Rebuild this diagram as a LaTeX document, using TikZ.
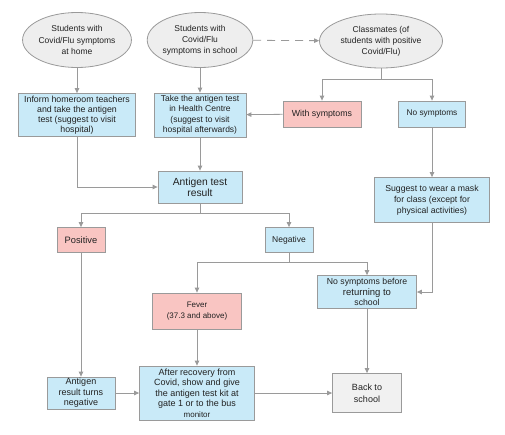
\documentclass[tikz,border=0pt]{standalone}
\usepackage{fontspec}
\setmainfont{Liberation Sans}
\usetikzlibrary{arrows.meta,shapes.geometric}
\definecolor{lc}{HTML}{9A9A9A}
\definecolor{bluef}{HTML}{C9EAF8}
\definecolor{pinkf}{HTML}{F9C5C2}
\definecolor{grayf}{HTML}{EEEEEE}
\definecolor{txt}{HTML}{222222}
\tikzset{
  every node/.style={font=\fontsize{8.8}{10}\selectfont, text=txt, align=center, inner sep=0pt},
  ell/.style={ellipse, draw=lc, fill=grayf, line width=0.8pt, font=\fontsize{8.5}{11.2}\selectfont},
  bbox/.style={rectangle, draw=lc, fill=bluef, line width=0.8pt},
  pbox/.style={rectangle, draw=lc, fill=pinkf, line width=0.8pt},
  gbox/.style={rectangle, draw=lc, fill=grayf!80!white, line width=0.8pt},
  conn/.style={draw=lc, line width=0.8pt, -{Triangle[length=5pt,width=4.5pt]}},
  plain/.style={draw=lc, line width=0.8pt}
}
\begin{document}
\begin{tikzpicture}[x=1pt,y=-1pt]
\useasboundingbox (0,0) rectangle (505,434);
% ellipses
\node[ell, minimum width=103pt, minimum height=55pt] (e1) at (77,40) {Students with\\Covid/Flu symptoms\\at home};
\node[ell, minimum width=100pt, minimum height=55pt] (e2) at (200,40) {Students with\\Covid/Flu\\symptoms in school};
\node[ell, minimum width=123pt, minimum height=54pt] (e3) at (381,41) {Classmates (of\\students with positive\\Covid/Flu)};
% row 2
\node[bbox, minimum width=117pt, minimum height=43pt] (b1) at (77,115) {Inform homeroom teachers\\and take the antigen\\test (suggest to visit\\hospital)};
\node[bbox, minimum width=92pt, minimum height=44pt, font=\fontsize{8.5}{10.5}\selectfont] (b2) at (200,115) {Take the antigen test\\in Health Centre\\(suggest to visit\\hospital afterwards)};
\node[pbox, minimum width=78pt, minimum height=26pt] (ws) at (322,114) {With symptoms};
\node[bbox, minimum width=67pt, minimum height=26pt, font=\fontsize{8.3}{10}\selectfont] (ns) at (432,114) {No symptoms};
% antigen result
\node[bbox, minimum width=84pt, minimum height=32pt, font=\fontsize{10.3}{11}\selectfont] (ar) at (200,187) {Antigen test\\result};
\node[pbox, minimum width=48pt, minimum height=25pt, font=\fontsize{9.3}{10}\selectfont] (pos) at (81,240) {Positive};
\node[bbox, minimum width=48pt, minimum height=25pt, font=\fontsize{8.5}{10}\selectfont] (neg) at (289,240) {Negative};
\node[bbox, minimum width=115pt, minimum height=45pt, font=\fontsize{8.7}{11}\selectfont] (mask) at (432,200) {Suggest to wear a mask\\for class (except for\\physical activities)};
\node[pbox, minimum width=89pt, minimum height=36pt, font=\fontsize{8}{10.5}\selectfont] (fev) at (197,311) {Fever\\(37.3 and above)};
\node[bbox, minimum width=99pt, minimum height=33pt, font=\fontsize{8.7}{10.5}\selectfont] (nsb) at (367,292) {No symptoms before\\{\fontsize{9.5}{10.5}\selectfont returning to}\\school};
\node[bbox, minimum width=68pt, minimum height=32pt, font=\fontsize{9}{10.5}\selectfont] (arn) at (81,393) {Antigen\\result turns\\negative};
\node[bbox, minimum width=115pt, minimum height=54pt, font=\fontsize{9}{10.5}\selectfont] (rec) at (197,393) {After recovery from\\Covid, show and give\\the antigen test kit at\\gate 1 or to the bus\\{\fontsize{8}{9}\selectfont monitor}};
\node[gbox, minimum width=69pt, minimum height=39pt, font=\fontsize{9}{12}\selectfont] (back) at (367,393) {Back to\\school};
% connectors
\coordinate (j3) at (381,79);
\coordinate (ja) at (200,213);
\coordinate (jn) at (289,262);
\draw[conn, dashed, dash pattern=on 8pt off 6pt] (e2) -- (e3);
\draw[conn] (e1) -- (b1);
\draw[conn] (e2) -- (b2);
\draw[plain] (e3.south) -- (j3);
\draw[conn] (j3) -| (ws.north);
\draw[conn] (j3) -| (ns.north);
\draw[conn] (ws) -- (b2);
\draw[conn] (ns) -- (mask);
\draw[conn] (b1.south) |- (ar.west);
\draw[conn] (b2) -- (ar);
\draw[plain] (ar.south) -- (ja);
\draw[conn] (ja) -| (pos.north);
\draw[conn] (ja) -| (neg.north);
\draw[plain] (neg.south) -- (jn);
\draw[conn] (jn) -| (fev.north);
\draw[conn] (jn) -| (nsb.north);
\draw[conn] (mask.south) |- (nsb.east);
\draw[conn] (pos) -- (arn);
\draw[conn] (fev) -- (rec);
\draw[conn] (arn) -- (rec);
\draw[conn] (rec) -- (back);
\draw[conn] (nsb) -- (back);
\end{tikzpicture}
\end{document}
